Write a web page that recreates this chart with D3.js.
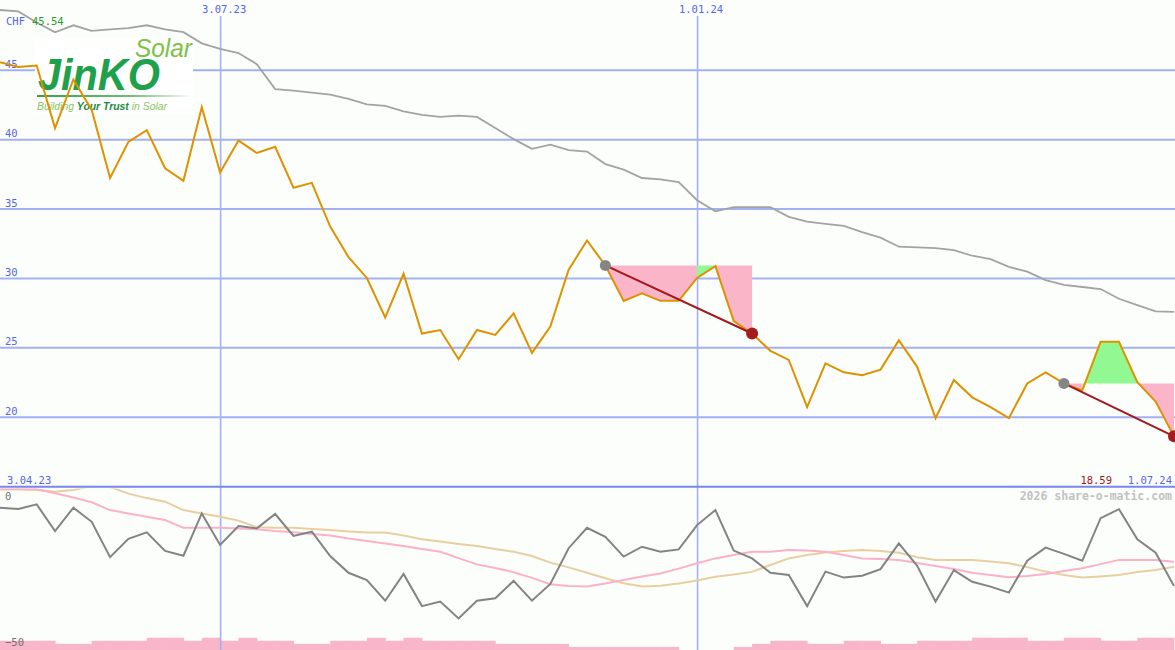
<!DOCTYPE html>
<html>
<head>
<meta charset="utf-8">
<script src="https://cdn.jsdelivr.net/npm/d3@7"></script>
<style>
  html, body { margin: 0; padding: 0; background: #fcfefc; }
  svg { display: block; }
  text { font-family: "DejaVu Sans Mono", "Liberation Mono", monospace; }
</style>
</head>
<body>
<svg id="chart" width="1175" height="650"></svg>
<script>
// ---------- DATA ----------
const dates = [
  "2023-04-10","2023-04-17","2023-04-24","2023-05-01","2023-05-08","2023-05-15","2023-05-22","2023-05-29",
  "2023-06-05","2023-06-12","2023-06-19","2023-06-26","2023-07-03","2023-07-10","2023-07-17","2023-07-24",
  "2023-07-31","2023-08-07","2023-08-14","2023-08-21","2023-08-28","2023-09-04","2023-09-11","2023-09-18",
  "2023-09-25","2023-10-02","2023-10-09","2023-10-16","2023-10-23","2023-10-30","2023-11-06","2023-11-13",
  "2023-11-20","2023-11-27","2023-12-04","2023-12-11","2023-12-18","2023-12-25","2024-01-01","2024-01-08",
  "2024-01-15","2024-01-22","2024-01-29","2024-02-05","2024-02-12","2024-02-19","2024-02-26","2024-03-04",
  "2024-03-11","2024-03-18","2024-03-25","2024-04-01","2024-04-08","2024-04-15","2024-04-22","2024-04-29",
  "2024-05-06","2024-05-13","2024-05-20","2024-05-27","2024-06-03","2024-06-10","2024-06-17","2024-06-24",
  "2024-07-01"
];
const closePrice = [45.54, 45.2, 45.3, 40.8, 44.3, 42.1, 37.2, 39.8, 40.65, 37.9, 37.0, 42.3, 37.6, 39.9, 39.0, 39.45,
  36.5, 36.85, 33.7, 31.5, 30.0, 27.15, 30.3, 26.0, 26.25, 24.15, 26.25, 25.9, 27.45, 24.6, 26.5, 30.6,
  32.7, 30.9, 28.35, 28.9, 28.35, 28.35, 30.0, 30.85, 26.9, 26.0, 24.75, 24.1, 20.7, 23.85, 23.2, 23.0,
  23.4, 25.5, 23.6, 19.9, 22.65, 21.4, 20.7, 19.9, 22.4, 23.2, 22.4, 21.9, 25.4, 25.4, 22.5, 21.1, 18.59];
const movingAvg = [49.3, 49.2, 48.4, 47.7, 48.2, 47.8, 47.9, 48.0, 48.2, 47.9, 47.7, 46.9, 46.5, 46.2, 45.4, 43.6,
  43.5, 43.35, 43.2, 42.9, 42.5, 42.4, 42.0, 41.75, 41.6, 41.7, 41.6, 40.8, 40.0, 39.3, 39.6, 39.2,
  39.1, 38.2, 37.8, 37.2, 37.1, 36.9, 35.6, 34.8, 35.1, 35.1, 35.1, 34.4, 34.05, 33.9, 33.75, 33.3,
  32.9, 32.25, 32.2, 32.15, 32.0, 31.6, 31.35, 30.8, 30.45, 29.85, 29.5, 29.35, 29.2, 28.5, 28.05, 27.6, 27.55];
const oscGray = [-5.9, -6.3, -4.8, -13.7, -5.9, -10.6, -22.4, -16.3, -14.1, -20.3, -21.9, -7.8, -18.3, -12.0, -12.8, -8.0,
  -15.3, -13.9, -22.0, -27.6, -30.0, -36.9, -28.0, -38.7, -37.2, -42.8, -36.9, -36.1, -30.3, -36.9, -31.3, -19.4,
  -12.6, -15.6, -22.2, -18.9, -20.6, -19.8, -11.7, -6.7, -20.2, -22.8, -27.6, -28.3, -38.7, -27.2, -29.2, -28.6,
  -26.4, -17.8, -25.3, -37.2, -26.7, -30.6, -32.2, -34.2, -23.6, -19.2, -21.3, -23.6, -9.4, -6.4, -16.4, -20.9, -32.0];
const oscPink = [0.3, 0.3, 0.3, -1.1, -2.5, -4.1, -6.7, -7.8, -8.9, -10.0, -12.6, -12.6, -12.6, -12.8, -13.1, -13.7,
  -14.1, -14.7, -15.2, -16.2, -17.0, -17.8, -18.7, -19.7, -20.6, -22.7, -24.8, -26.0, -27.4, -29.3, -31.4, -32.0,
  -32.2, -31.2, -30.0, -28.8, -27.8, -26.2, -24.4, -22.8, -21.7, -20.6, -20.6, -20.0, -20.2, -20.6, -21.7, -22.8,
  -23.0, -23.3, -24.3, -25.3, -26.3, -27.6, -28.3, -29.1, -28.7, -28.0, -27.0, -26.1, -24.7, -23.3, -23.3, -23.3, -23.9];
const oscTan = [0.2, 0.2, 0.0, -0.6, 0.0, 1.3, 1.0, -1.2, -2.7, -3.9, -6.7, -7.8, -8.9, -10.2, -12.4, -12.6,
  -12.6, -13.0, -13.3, -13.8, -14.2, -14.2, -15.2, -16.4, -17.2, -18.0, -18.7, -19.7, -20.6, -22.0, -24.2, -25.8,
  -27.6, -29.4, -31.1, -32.2, -31.9, -31.2, -30.2, -28.9, -28.2, -27.3, -25.0, -22.8, -21.7, -20.8, -20.3, -20.0,
  -20.3, -20.9, -22.4, -23.3, -23.3, -23.3, -23.8, -24.4, -25.7, -27.2, -28.3, -29.2, -28.8, -28.3, -27.3, -26.7, -25.6];
const volume = [3, 3, 3, 2, 2, 3, 3, 3, 4, 4, 3, 4, 3, 4, 3, 3, 2, 2, 3, 3, 4, 3, 4, 3, 3, 3, 3, 2, 2, 2, 2, 1,
  1, 1, 1, 1, 1, 0, 0, 0, 1, 2, 3, 3, 2, 2, 3, 3, 2, 2, 3, 3, 3, 4, 4, 4, 3, 3, 4, 4, 3, 3, 4, 4];
const yTicks = [20, 25, 30, 35, 40, 45];
const xTicks = ["2023-07-03", "2024-01-01"];
const lowTicks = [0, -50];
const trendFrom = ["2023-11-27", "2024-05-20"];
const trendTo = ["2024-01-22", "2024-07-01"];
const segFrom = ["2023-11-27", "2024-01-01", "2024-01-08", "2024-05-20", "2024-05-27", "2024-06-17"];
const segTo   = ["2024-01-01", "2024-01-08", "2024-01-22", "2024-05-27", "2024-06-17", "2024-07-01"];
const segKind = ["loss", "gain", "loss", "loss", "gain", "loss"];
const segTrend = [0, 0, 0, 1, 1, 1];
const currency = "CHF";
const firstValue = "45.54";
const lastValue = "18.59";
const startLabel = "3.04.23";
const endLabel = "1.07.24";
const copyright = "2026 share-o-matic.com";

// ---------- SETUP ----------
const W = 1175, H = 650;
const parse = d3.timeParse("%Y-%m-%d");
const D = dates.map(parse);
const idx = s => dates.indexOf(s);
const svg = d3.select("#chart");

const x = d3.scaleTime().domain([D[0], D[D.length - 1]]).range([0, 1174]);
const y = d3.scaleLinear().domain([15, 50]).range([486.2, 0.3]);
const yLow = d3.scaleLinear().domain([-50, 0]).range([640, 490]);
const yVol = d3.scaleLinear().domain([0, 4]).range([650, 637.7]);

const gridColor = "#a3b1f2";
const labelBlue = "#5565ee";

svg.append("rect").attr("width", W).attr("height", H).attr("fill", "#fcfefc");

svg.append("defs").append("clipPath").attr("id", "lowClip")
  .append("rect").attr("x", 0).attr("y", 488.5).attr("width", W).attr("height", H - 488.5);
svg.select("defs").append("clipPath").attr("id", "mainClip")
  .append("rect").attr("x", 0).attr("y", 0).attr("width", W).attr("height", 486);
const grad = svg.select("defs").append("linearGradient").attr("id", "logoLine");
grad.append("stop").attr("offset", "0%").attr("stop-color", "#2aa84a");
grad.append("stop").attr("offset", "60%").attr("stop-color", "#6cc070");
grad.append("stop").attr("offset", "100%").attr("stop-color", "#ffffff");

// ---------- VOLUME BARS ----------
svg.append("g").selectAll("rect").data(volume).join("rect")
  .attr("x", (v, i) => x(D[i]))
  .attr("width", (v, i) => x(D[i + 1]) - x(D[i]) + 0.5)
  .attr("y", v => yVol(v))
  .attr("height", v => 650 - yVol(v))
  .attr("fill", "#f9b5ca");

// ---------- HORIZONTAL GRID (y axis) ----------
const yAxis = d3.axisRight(y).tickValues(yTicks).tickSize(W).tickFormat(d3.format("d"));
const gy = svg.append("g").call(yAxis);
gy.select(".domain").remove();
gy.selectAll(".tick line").attr("stroke", gridColor).attr("stroke-width", 2);
gy.selectAll(".tick text").attr("x", 5).attr("dy", -2.5).attr("text-anchor", "start")
  .attr("fill", labelBlue).style("font-size", "10.5px").style("font-family", "DejaVu Sans Mono");

// ---------- VERTICAL GRID (x axis) ----------
const xAxis = d3.axisBottom(x).tickValues(xTicks.map(parse)).tickSize(H - 16).tickFormat(d3.timeFormat("%-d.%m.%y"));
const gx = svg.append("g").attr("transform", "translate(0,16)").call(xAxis);
gx.select(".domain").remove();
gx.selectAll(".tick line").attr("stroke", gridColor).attr("stroke-width", 1.6);
gx.selectAll(".tick text").attr("y", -3.5).attr("dy", 0).attr("dx", 3.5)
  .attr("fill", labelBlue).style("font-size", "10.5px").style("font-family", "DejaVu Sans Mono");

// separator
svg.append("line").attr("x1", 0).attr("x2", W).attr("y1", y(15) + 0.5).attr("y2", y(15) + 0.5)
  .attr("stroke", "#7886ee").attr("stroke-width", 2);

// ---------- LOGO ----------
const logo = svg.append("g");
logo.append("rect").attr("x", 35).attr("y", 38).attr("width", 158).attr("height", 76).attr("fill", "#ffffff");
logo.append("text").attr("x", 135).attr("y", 57).text("Solar")
  .attr("textLength", 57).attr("lengthAdjust", "spacingAndGlyphs")
  .style("font-family", "Liberation Sans").style("font-style", "italic").style("font-size", "25px")
  .attr("fill", "#7cc243");
logo.append("text").attr("x", 38).attr("y", 90).text("JinKO")
  .attr("textLength", 122).attr("lengthAdjust", "spacingAndGlyphs")
  .style("font-family", "Liberation Sans").style("font-weight", "bold").style("font-style", "italic")
  .style("font-size", "44px").attr("fill", "#1fa04a");
logo.append("rect").attr("x", 37).attr("y", 95).attr("width", 156).attr("height", 2).attr("fill", "url(#logoLine)");
const tag = logo.append("text").attr("x", 37).attr("y", 110)
  .attr("textLength", 130).attr("lengthAdjust", "spacingAndGlyphs")
  .style("font-family", "Liberation Sans").style("font-style", "italic").style("font-size", "10.5px");
tag.append("tspan").text("Building ").attr("fill", "#8ac45e");
tag.append("tspan").text("Your Trust").attr("fill", "#1d8c3c").style("font-weight", "bold");
tag.append("tspan").text(" in Solar").attr("fill", "#8ac45e");

// ---------- MAIN CHART ----------
const main = svg.append("g").attr("clip-path", "url(#mainClip)");
const lineMain = d3.line().x((d, i) => x(D[i])).y(d => y(d));

main.append("path").datum(movingAvg).attr("d", lineMain)
  .attr("fill", "none").attr("stroke", "#a3a3a3").attr("stroke-width", 1.8);

// annotation fills
segFrom.forEach((s, k) => {
  const a = idx(s), b = idx(segTo[k]);
  const level = closePrice[idx(trendFrom[segTrend[k]])];
  const pts = d3.range(a, b + 1);
  const area = d3.area().x(i => x(D[i])).y0(y(level)).y1(i => y(closePrice[i]));
  main.append("path").datum(pts).attr("d", area)
    .attr("fill", segKind[k] === "gain" ? "#92f992" : "#fbb5c9");
});

main.append("path").datum(closePrice).attr("d", lineMain)
  .attr("fill", "none").attr("stroke", "#de9200").attr("stroke-width", 2).attr("stroke-linejoin", "miter");

// trend lines and dots
trendFrom.forEach((s, k) => {
  const a = idx(s), b = idx(trendTo[k]);
  main.append("line")
    .attr("x1", x(D[a])).attr("y1", y(closePrice[a]))
    .attr("x2", x(D[b])).attr("y2", y(closePrice[b]))
    .attr("stroke", "#a3181c").attr("stroke-width", 2);
  main.append("circle").attr("cx", x(D[a])).attr("cy", y(closePrice[a])).attr("r", 5.5).attr("fill", "#858585");
  main.append("circle").attr("cx", x(D[b])).attr("cy", y(closePrice[b])).attr("r", 6).attr("fill", "#a61c1c");
});

// ---------- LOWER PANEL ----------
const low = svg.append("g").attr("clip-path", "url(#lowClip)");
const lineLow = d3.line().x((d, i) => x(D[i])).y(d => yLow(d));
low.append("path").datum(oscTan).attr("d", lineLow).attr("fill", "none").attr("stroke", "#e8cf9f").attr("stroke-width", 2);
low.append("path").datum(oscPink).attr("d", lineLow).attr("fill", "none").attr("stroke", "#fbb2c8").attr("stroke-width", 2);
low.append("path").datum(oscGray).attr("d", lineLow).attr("fill", "none").attr("stroke", "#838383").attr("stroke-width", 2);

const lowOffsets = [9.5, 6];
svg.append("g").selectAll("text").data(lowTicks).join("text")
  .attr("x", 5).attr("y", (v, i) => yLow(v) + lowOffsets[i]).text(d => d3.format("d")(d))
  .attr("fill", "#707070").style("font-size", "10.5px");

// ---------- TEXT LABELS ----------
const t1 = svg.append("text").attr("x", 6).attr("y", 25).style("font-size", "10.5px");
t1.append("tspan").text(currency + " ").attr("fill", labelBlue);
t1.append("tspan").attr("x", 32).text(firstValue).attr("fill", "#2a9a2a");

svg.append("text").attr("x", 7).attr("y", 483.5).text(startLabel).attr("fill", labelBlue).style("font-size", "10.5px");
svg.append("text").attr("x", 1112).attr("y", 483.5).attr("text-anchor", "end").text(lastValue)
  .attr("fill", "#a01818").style("font-size", "10.5px");
svg.append("text").attr("x", 1172).attr("y", 483.5).attr("text-anchor", "end").text(endLabel)
  .attr("fill", labelBlue).style("font-size", "10.5px");
svg.append("text").attr("x", 1172).attr("y", 500).attr("text-anchor", "end").text(copyright)
  .attr("fill", "#c2c2c2").style("font-size", "11.5px").style("font-weight", "bold");
</script>
</body>
</html>
